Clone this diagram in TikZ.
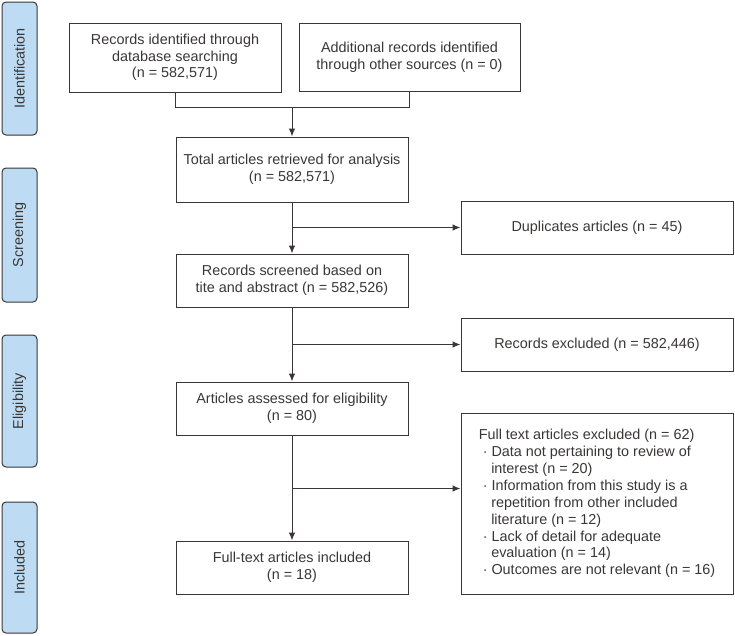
\documentclass[tikz,border=0pt]{standalone}
\usepackage{fontspec}
\setmainfont{Liberation Sans}
\usetikzlibrary{arrows.meta}

\definecolor{barblue}{HTML}{BDDCF4}
\definecolor{linegray}{HTML}{3A3636}

\tikzset{
    box/.style = {draw = linegray, line width = 1pt, align = center, text = linegray,
        inner sep = 2pt, font = \fontsize{14.4}{16.6}\selectfont},
    stagebar/.style = {draw = linegray, line width = 1pt, fill = barblue, rounded corners = 4pt,
        minimum width = 35pt, text = linegray, font = \fontsize{14.4}{16}\selectfont},
    flow/.style = {draw = linegray, line width = 1pt, -{Latex[length = 8pt, width = 6.5pt]}},
    plain/.style = {draw = linegray, line width = 1pt}
}

\begin{document}
\begin{tikzpicture}[x = 1pt, y = -1pt]
    \useasboundingbox (0, 0) rectangle (735, 635);

    % stage bars on the left
    \node[stagebar, minimum height = 133pt] (ident) at (19.5, 68.5) {\rotatebox{90}{Identification}};
    \node[stagebar, minimum height = 134pt] (screen) at (19.5, 235) {\rotatebox{90}{Screening}};
    \node[stagebar, minimum height = 132pt] (elig) at (19.5, 401) {\rotatebox{90}{Eligibility}};
    \node[stagebar, minimum height = 131pt] (incl) at (19.5, 567.5) {\rotatebox{90}{Included}};

    % identification
    \node[box, minimum width = 212pt, minimum height = 69pt] (records) at (175, 57.5)
        {Records identified through\\database searching\\(n = 582,571)};
    \node[box, minimum width = 221pt, minimum height = 68pt] (additional) at (409.5, 57)
        {Additional records identified\\through other sources (n = 0)};

    % main column
    \node[box, minimum width = 232pt, minimum height = 65pt] (total) at (292, 169.5)
        {Total articles retrieved for analysis\\(n = 582,571)};
    \node[box, minimum width = 232pt, minimum height = 53pt] (screened) at (292, 280.5)
        {Records screened based on\\tite and abstract (n = 582,526)};
    \node[box, minimum width = 232pt, minimum height = 53pt] (assessed) at (292, 408.5)
        {Articles assessed for eligibility\\(n = 80)};
    \node[box, minimum width = 232pt, minimum height = 53pt] (included) at (292, 567.5)
        {Full-text articles included\\(n = 18)};

    % exclusions on the right
    \node[box, minimum width = 272pt, minimum height = 53pt] (duplicates) at (597, 227.5)
        {Duplicates articles (n = 45)};
    \node[box, minimum width = 272pt, minimum height = 53pt] (excluded) at (597, 344.5)
        {Records excluded (n = 582,446)};
    \node[box, minimum width = 272pt, minimum height = 181pt, align = left,
        font = \fontsize{14.4}{16.9}\selectfont] (fulltext) at (597, 503.5)
        {Full text articles excluded (n = 62)\\
        \hspace*{4pt}{\textperiodcentered} Data not pertaining to review of\\
        \hspace*{12.5pt}interest (n = 20)\\
        \hspace*{4pt}{\textperiodcentered} Information from this study is a\\
        \hspace*{12.5pt}repetition from other included\\
        \hspace*{12.5pt}literature (n = 12)\\
        \hspace*{4pt}{\textperiodcentered} Lack of detail for adequate\\
        \hspace*{12.5pt}evaluation (n = 14)\\
        \hspace*{4pt}{\textperiodcentered} Outcomes are not relevant (n = 16)};

    % connectors
    \coordinate (merge) at (292, 107.5);
    \coordinate (split1) at (292, 227.5);
    \coordinate (split2) at (292, 344.5);
    \coordinate (split3) at (292, 488.5);

    \draw[plain] (records.south) |- (merge) -| (additional.south);
    \draw[flow] (merge) -- (total.north);
    \draw[flow] (total.south) -- (screened.north);
    \draw[flow] (split1) -- (duplicates.west);
    \draw[flow] (screened.south) -- (assessed.north);
    \draw[flow] (split2) -- (excluded.west);
    \draw[flow] (assessed.south) -- (included.north);
    \draw[flow] (split3) -- (split3 -| fulltext.west);
\end{tikzpicture}
\end{document}
